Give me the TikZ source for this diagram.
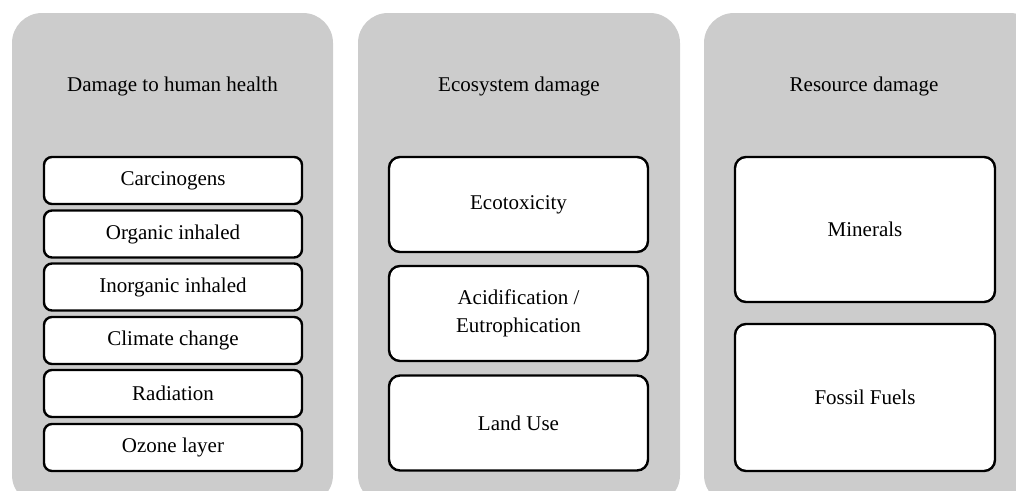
\documentclass[tikz,border=0pt]{standalone}
\usepackage{fontspec}
\setmainfont{Liberation Serif}
\begin{document}
\begin{tikzpicture}[x=1pt,y=-1pt,
  panel/.style={fill=panelgrey, draw=none, rounded corners=30pt},
  item/.style={draw=black, line width=2.4pt, fill=white, rounded corners=8pt,
    align=center, inner sep=0pt, font=\fontsize{21}{28}\selectfont},
  bigitem/.style={item, rounded corners=11pt},
  title/.style={font=\fontsize{21}{28}\selectfont}]
\definecolor{panelgrey}{HTML}{CCCCCC}
\useasboundingbox (0,0) rectangle (1016,490);
\begin{scope}
\clip (0,0) rectangle (1016,490);
% grey column panels
\path[panel] (12,13) rectangle (333,505);
\path[panel] (358,13) rectangle (680,505);
\path[panel] (704,13) rectangle (1040,505);
\end{scope}
% column titles
\node[title] (t1) at (172.5,86) {Damage to human health};
\node[title] (t2) at (519,86) {Ecosystem damage};
\node[title] (t3) at (864,86) {Resource damage};
% human health categories
\node[item, minimum width=258pt, minimum height=47pt] (h1) at (173,180.5) {Carcinogens};
\node[item, minimum width=258pt, minimum height=47pt] (h2) at (173,234) {Organic inhaled};
\node[item, minimum width=258pt, minimum height=47pt] (h3) at (173,287) {Inorganic inhaled};
\node[item, minimum width=258pt, minimum height=47pt] (h4) at (173,340.5) {Climate change};
\node[item, minimum width=258pt, minimum height=47pt] (h5) at (173,393.5) {Radiation};
\node[item, minimum width=258pt, minimum height=47pt] (h6) at (173,447.5) {Ozone layer};
% ecosystem categories
\node[bigitem, minimum width=259pt, minimum height=95pt] (e1) at (518.5,204.5) {Ecotoxicity};
\node[bigitem, minimum width=259pt, minimum height=95pt] (e2) at (518.5,313.5) {Acidification /\\Eutrophication};
\node[bigitem, minimum width=259pt, minimum height=95pt] (e3) at (518.5,423) {Land Use};
% resource categories
\node[bigitem, minimum width=260pt, minimum height=145pt] (r1) at (865,229.5) {Minerals};
\node[bigitem, minimum width=260pt, minimum height=147pt] (r2) at (865,397.5) {Fossil Fuels};
\end{tikzpicture}
\end{document}
